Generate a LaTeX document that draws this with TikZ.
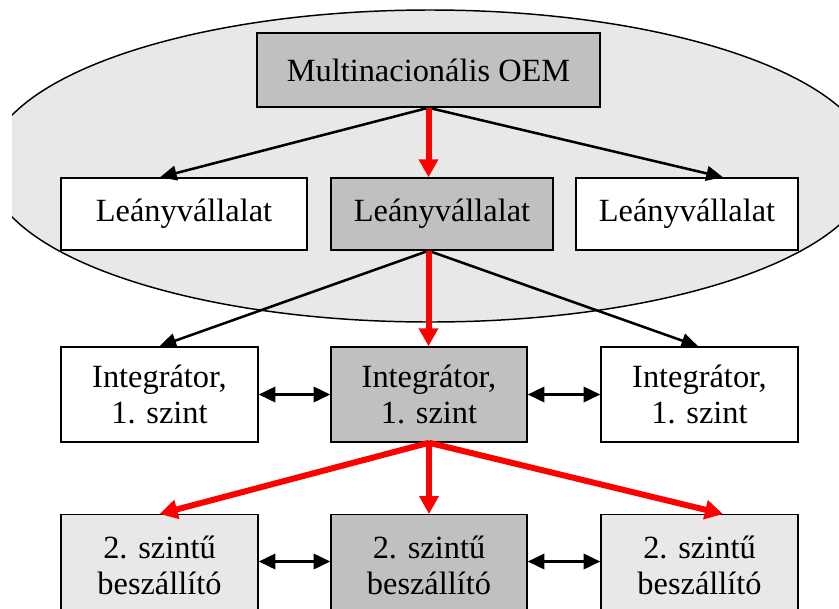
\documentclass[tikz,border=0pt]{standalone}
\usepackage{fontspec}
\setmainfont{Liberation Serif}
\usetikzlibrary{arrows.meta}
\definecolor{boxgray}{HTML}{C0C0C0}
\definecolor{lightgray}{HTML}{E8E8E8}
\definecolor{arrred}{HTML}{FF0000}
\begin{document}
\begin{tikzpicture}[x=0.75pt,y=-0.75pt,
  box/.style={draw, line width=1.1pt, inner sep=0pt, align=center,
    font=\fontsize{24.3}{27}\selectfont},
  wide/.style={box, minimum width=166.5pt, minimum height=54pt},
  lower/.style={box, minimum width=147.75pt, minimum height=71.25pt},
  bottom/.style={lower, anchor=north, minimum height=76pt},
  blk/.style={line width=1.9pt, -{Triangle[length=12.5pt,width=11pt]}},
  dbl/.style={line width=1.9pt, {Triangle[length=12.5pt,width=11.5pt]}-{Triangle[length=12.5pt,width=11.5pt]}},
  red/.style={draw=arrred, line width=4.5pt, -{Triangle[length=13.5pt,width=14pt]}, color=arrred}]
\useasboundingbox (0,0) rectangle (839,608);
\clip (0,0) rectangle (839,608);
\begin{scope}
  \clip (12,0) rectangle (839,608);
  \draw[fill=lightgray, line width=1.1pt] (430,166) ellipse [x radius=442, y radius=156];
\end{scope}
\node[box, fill=boxgray, minimum width=257.25pt, minimum height=55.5pt] (oem) at (428.5,70) {Multinacionális OEM};
\node[wide, fill=white, minimum width=184.5pt] (lL) at (184,214) {Leányvállalat};
\node[wide, fill=boxgray] (lM) at (442,214) {Leányvállalat};
\node[wide, fill=white] (lR) at (687,214) {Leányvállalat};
\node[lower, fill=white] (iL) at (159.5,394.5) {Integrátor,\\1. szint};
\node[lower, fill=boxgray, minimum width=147pt] (iM) at (429,394.5) {Integrátor,\\1. szint};
\node[lower, fill=white] (iR) at (699.5,394.5) {Integrátor,\\1. szint};
\node[bottom, fill=lightgray] (bL) at (159.5,514) {2. szintű\\beszállító};
\node[bottom, fill=boxgray, minimum width=147pt] (bM) at (429,514) {2. szintű\\beszállító};
\node[bottom, fill=lightgray] (bR) at (699.5,514) {2. szintű\\beszállító};
\coordinate (ms) at (oem.south |- lM.south);
\coordinate (bc) at (0,561.5);
\draw[blk] (oem.south) -- ([xshift=-18pt]lL.north);
\draw[blk] (oem.south) -- ([xshift=27pt]lR.north);
\draw[red] (oem.south) -- (oem.south |- lM.north);
\draw[blk] (ms) -- (iL.north);
\draw[blk] (ms) -- ([xshift=-1pt]iR.north);
\draw[red] (ms) -- (ms |- iM.north);
\draw[red] (iM.south) -- (bL.north);
\draw[red] (iM.south) -- (bM.north);
\draw[red] (iM.south) -- ([xshift=17.6pt]bR.north);
\draw[dbl] (iL.east) -- (iM.west);
\draw[dbl] (iM.east) -- (iR.west);
\draw[dbl] (bL.east |- bc) -- (bM.west |- bc);
\draw[dbl] (bM.east |- bc) -- (bR.west |- bc);
\end{tikzpicture}
\end{document}
